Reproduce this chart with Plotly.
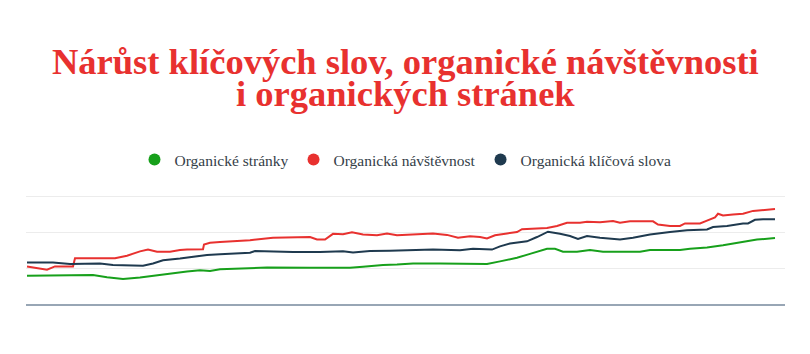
import plotly.graph_objects as go

# x positions (day index) and values (grid units)
red_x = [1, 21, 29, 47, 49, 89, 101, 114, 122, 131, 144, 154, 161, 177, 178, 184, 194, 204, 224, 247, 267, 284, 291, 299, 307, 317, 326, 337, 351, 361, 371, 387, 407, 421, 432, 444, 454, 461, 469, 481, 491, 496, 507, 521, 531, 541, 554, 561, 574, 587, 594, 604, 627, 632, 644, 654, 659, 674, 681, 689, 692, 697, 707, 717, 727, 737, 749]
red_y = [1.05, 0.96, 1.05, 1.05, 1.28, 1.28, 1.35, 1.47, 1.52, 1.46, 1.46, 1.51, 1.52, 1.53, 1.66, 1.71, 1.73, 1.74, 1.78, 1.85, 1.85, 1.87, 1.80, 1.80, 1.96, 1.95, 2.00, 1.94, 1.92, 1.97, 1.92, 1.94, 1.97, 1.93, 1.85, 1.89, 1.87, 1.83, 1.92, 1.97, 2.01, 2.09, 2.10, 2.12, 2.18, 2.27, 2.27, 2.30, 2.28, 2.32, 2.27, 2.31, 2.31, 2.22, 2.18, 2.18, 2.25, 2.25, 2.33, 2.42, 2.52, 2.47, 2.50, 2.52, 2.60, 2.62, 2.65]

navy_x = [1, 27, 44, 74, 87, 117, 127, 137, 154, 167, 181, 194, 204, 224, 229, 251, 267, 294, 314, 317, 327, 344, 364, 384, 407, 434, 447, 466, 474, 484, 501, 511, 522, 534, 544, 552, 561, 574, 594, 607, 624, 644, 661, 681, 687, 701, 717, 722, 729, 737, 749]
navy_y = [1.16, 1.16, 1.12, 1.13, 1.09, 1.07, 1.13, 1.22, 1.27, 1.32, 1.37, 1.39, 1.40, 1.43, 1.48, 1.46, 1.45, 1.45, 1.46, 1.47, 1.44, 1.48, 1.49, 1.51, 1.52, 1.50, 1.54, 1.52, 1.61, 1.69, 1.75, 1.87, 2.02, 1.96, 1.90, 1.82, 1.90, 1.85, 1.80, 1.85, 1.94, 2.01, 2.06, 2.08, 2.15, 2.18, 2.25, 2.25, 2.35, 2.37, 2.37]

green_x = [1, 67, 81, 97, 114, 127, 144, 161, 174, 184, 194, 217, 241, 284, 317, 324, 337, 357, 371, 384, 387, 414, 461, 474, 491, 504, 514, 521, 529, 537, 551, 564, 577, 597, 614, 624, 654, 664, 681, 697, 717, 731, 749]
green_y = [0.79, 0.81, 0.75, 0.70, 0.74, 0.79, 0.85, 0.91, 0.94, 0.92, 0.97, 0.99, 1.02, 1.01, 1.02, 1.01, 1.04, 1.09, 1.10, 1.14, 1.13, 1.13, 1.12, 1.19, 1.29, 1.40, 1.47, 1.54, 1.54, 1.46, 1.46, 1.51, 1.46, 1.46, 1.46, 1.51, 1.51, 1.54, 1.58, 1.64, 1.74, 1.80, 1.84]

names = ["Organické stránky", "Organická návštěvnost", "Organická klíčová slova"]
colors = ["#17a01b", "#e8312f", "#1f3a4f"]
series = [(green_x, green_y), (red_x, red_y), (navy_x, navy_y)]
title_lines = ["Nárůst klíčových slov, organické návštěvnosti", "i organických stránek"]

fig = go.Figure()
for (xs, ys), name, col in zip(series, names, colors):
    fig.add_trace(go.Scatter(x=xs, y=ys, mode="lines", name=name,
                             line=dict(color=col, width=2),
                             legendgroup=name, showlegend=False,
                             hoverinfo="skip"))
for name, col in zip(names, colors):
    fig.add_trace(go.Scatter(x=[None], y=[None], mode="markers", name=name,
                             marker=dict(color=col, size=12, symbol="circle"),
                             legendgroup=name, showlegend=True))

H_PLOT = 111
title_text = "<br>".join("<span style='font-size:36.5px'><b>%s</b></span>" % t
                         for t in title_lines)
fig.add_annotation(text=title_text, xref="paper", yref="paper", x=0.5,
                   xanchor="center", y=(304 - 78) / H_PLOT, yanchor="middle",
                   showarrow=False,
                   font=dict(family="Liberation Serif", size=24.5, color="#e8312f"))

fig.update_layout(
    width=810, height=354,
    margin=dict(l=26, r=25, t=354 - 50 - H_PLOT, b=50),
    paper_bgcolor="white", plot_bgcolor="white",
    showlegend=True,
    legend=dict(orientation="h", x=0.5, xanchor="center", y=1 - 160 / 354,
                yref="container", yanchor="middle",
                font=dict(family="Liberation Serif", size=15.5, color="#343e48"),
                itemsizing="constant", traceorder="normal"),
    xaxis=dict(range=[0, 759], showgrid=False, showticklabels=False, ticks="",
               zeroline=False, showline=True, linecolor="#98a6b5", linewidth=2,
               fixedrange=True),
    yaxis=dict(range=[0, 3.1], tickvals=[1, 2, 3], showticklabels=False, ticks="",
               gridcolor="#ececec", gridwidth=1, zeroline=False, showline=False,
               fixedrange=True),
)

fig.write_html("out.html")
